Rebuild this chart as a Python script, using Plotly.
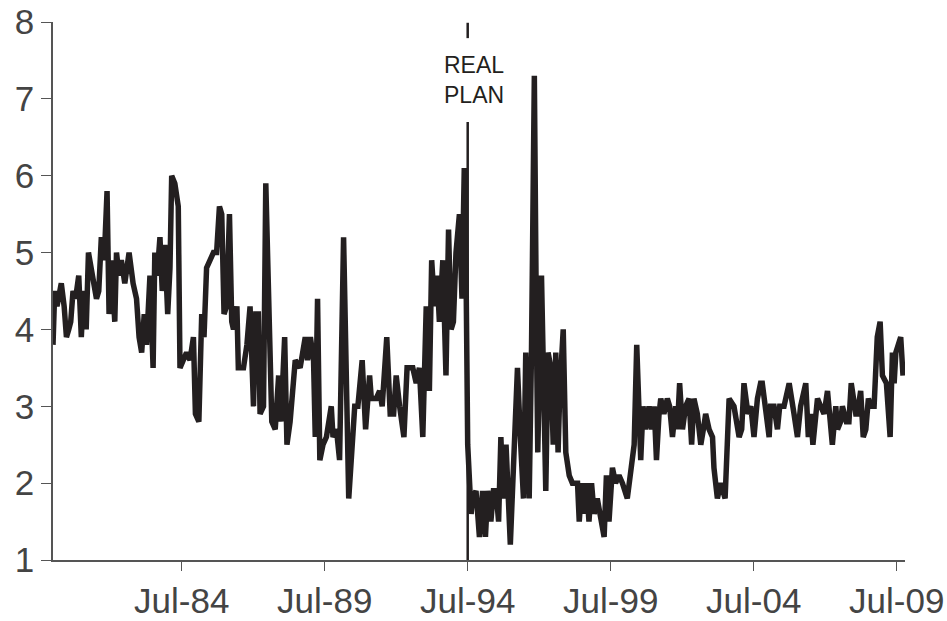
import plotly.graph_objects as go

# decimal years (x) and the plotted values (y)
years = [
    1980.00, 1980.06, 1980.14, 1980.21, 1980.29, 1980.39, 1980.47, 1980.55, 1980.62, 1980.70,
    1980.79, 1980.90, 1980.99, 1981.07, 1981.16, 1981.24, 1981.33, 1981.43, 1981.52, 1981.60,
    1981.69, 1981.79, 1981.89, 1981.96, 1982.04, 1982.16, 1982.22, 1982.31, 1982.39, 1982.51,
    1982.66, 1982.80, 1982.92, 1983.01, 1983.10, 1983.19, 1983.27, 1983.39, 1983.50, 1983.56,
    1983.64, 1983.74, 1983.82, 1983.91, 1984.01, 1984.09, 1984.15, 1984.26, 1984.38, 1984.44,
    1984.56, 1984.67, 1984.79, 1984.91, 1984.98, 1985.10, 1985.20, 1985.28, 1985.37, 1985.47,
    1985.61, 1985.72, 1985.82, 1985.90, 1985.98, 1986.07, 1986.17, 1986.25, 1986.31, 1986.43,
    1986.48, 1986.66, 1986.78, 1986.89, 1987.01, 1987.09, 1987.18, 1987.24, 1987.36, 1987.44,
    1987.65, 1987.77, 1987.89, 1987.97, 1988.10, 1988.18, 1988.29, 1988.47, 1988.64, 1988.82,
    1988.90, 1989.00, 1989.11, 1989.17, 1989.25, 1989.33, 1989.44, 1989.56, 1989.73, 1989.79,
    1989.91, 1990.02, 1990.16, 1990.34, 1990.49, 1990.55, 1990.66, 1990.81, 1990.93, 1991.07,
    1991.13, 1991.30, 1991.42, 1991.51, 1991.67, 1991.79, 1991.91, 1992.00, 1992.12, 1992.27,
    1992.38, 1992.58, 1992.70, 1992.81, 1992.93, 1993.05, 1993.16, 1993.24, 1993.34, 1993.43,
    1993.51, 1993.63, 1993.74, 1993.83, 1993.92, 1994.00, 1994.09, 1994.21, 1994.30, 1994.38,
    1994.44, 1994.50, 1994.62, 1994.67, 1994.79, 1994.91, 1995.02, 1995.12, 1995.20, 1995.31,
    1995.40, 1995.49, 1995.58, 1995.66, 1995.74, 1995.84, 1995.99, 1996.07, 1996.24, 1996.34,
    1996.45, 1996.53, 1996.65, 1996.73, 1996.83, 1996.91, 1996.95, 1997.08, 1997.23, 1997.31,
    1997.41, 1997.49, 1997.58, 1997.66, 1997.72, 1997.84, 1997.93, 1998.05, 1998.16, 1998.34,
    1998.40, 1998.49, 1998.57, 1998.65, 1998.74, 1998.83, 1998.92, 1999.03, 1999.15, 1999.27,
    1999.35, 1999.44, 1999.56, 1999.67, 1999.79, 1999.91, 2000.08, 2000.20, 2000.32, 2000.41,
    2000.55, 2000.63, 2000.72, 2000.84, 2000.93, 2001.02, 2001.10, 2001.19, 2001.25, 2001.36,
    2001.48, 2001.56, 2001.66, 2001.77, 2001.83, 2001.91, 2002.01, 2002.12, 2002.24, 2002.33,
    2002.41, 2002.53, 2002.65, 2002.74, 2002.82, 2002.94, 2003.06, 2003.11, 2003.23, 2003.35,
    2003.50, 2003.64, 2003.81, 2003.99, 2004.08, 2004.16, 2004.30, 2004.40, 2004.51, 2004.63,
    2004.74, 2004.80, 2004.92, 2005.04, 2005.09, 2005.21, 2005.33, 2005.41, 2005.56, 2005.74,
    2005.91, 2006.03, 2006.14, 2006.32, 2006.41, 2006.49, 2006.57, 2006.73, 2006.84, 2006.96,
    2007.08, 2007.16, 2007.25, 2007.37, 2007.43, 2007.54, 2007.60, 2007.74, 2007.83, 2007.91,
    2008.07, 2008.12, 2008.24, 2008.33, 2008.42, 2008.51, 2008.59, 2008.71, 2008.82, 2008.92,
    2009.00, 2009.14, 2009.27, 2009.35, 2009.41, 2009.47, 2009.55, 2009.64, 2009.72,
]
values = [
    3.8, 4.5, 4.3, 4.5, 4.6, 4.3, 3.9, 4.0, 4.1, 4.5,
    4.4, 4.7, 3.9, 4.5, 4.0, 5.0, 4.8, 4.5, 4.4, 4.5,
    5.2, 4.9, 5.8, 4.2, 4.9, 4.1, 5.0, 4.7, 4.9, 4.6,
    5.0, 4.6, 4.4, 3.9, 3.7, 4.2, 3.8, 4.7, 3.5, 5.0,
    4.7, 5.2, 4.5, 5.1, 4.2, 4.8, 6.0, 5.9, 5.6, 3.5,
    3.6, 3.7, 3.6, 3.9, 2.9, 2.8, 4.2, 3.9, 4.8, 4.9,
    5.0, 5.0, 5.6, 5.5, 4.2, 4.3, 5.5, 4.1, 4.0, 4.3,
    3.5, 3.5, 3.8, 4.3, 3.0, 4.2, 4.2, 2.9, 3.0, 5.9,
    2.8, 2.7, 3.4, 2.8, 3.9, 2.5, 2.8, 3.6, 3.5, 3.9,
    3.6, 3.9, 3.6, 2.6, 4.4, 2.3, 2.5, 2.6, 3.0, 2.6,
    2.7, 2.3, 5.2, 1.8, 2.6, 3.0, 3.0, 3.6, 2.7, 3.4,
    3.1, 3.1, 3.2, 3.0, 3.9, 2.9, 2.9, 3.4, 3.0, 2.6,
    3.5, 3.5, 3.3, 3.5, 2.6, 4.3, 3.2, 4.9, 4.3, 4.7,
    4.1, 4.9, 3.4, 5.3, 4.0, 4.1, 5.0, 5.5, 4.4, 6.1,
    4.8, 2.5, 1.6, 1.8, 1.9, 1.3, 1.9, 1.3, 1.9, 1.5,
    1.9, 1.9, 1.5, 2.6, 1.8, 2.5, 1.2, 2.0, 3.5, 2.6,
    1.8, 3.7, 1.8, 3.7, 7.3, 3.7, 2.4, 4.7, 1.9, 3.7,
    3.5, 2.5, 3.7, 2.4, 3.2, 4.0, 2.4, 2.1, 2.0, 2.0,
    1.5, 2.0, 1.6, 2.0, 1.5, 2.0, 1.6, 1.8, 1.5, 1.3,
    2.1, 1.5, 2.2, 2.0, 2.1, 2.0, 1.8, 2.2, 2.5, 3.8,
    2.3, 3.0, 2.7, 3.0, 2.7, 3.0, 2.3, 2.9, 3.1, 2.9,
    3.1, 3.0, 2.6, 3.0, 2.7, 3.3, 2.7, 3.0, 3.1, 2.5,
    3.1, 2.9, 2.5, 2.7, 2.9, 2.7, 2.6, 2.2, 1.8, 2.0,
    1.8, 3.1, 3.0, 2.6, 2.7, 3.3, 2.9, 3.0, 2.6, 3.1,
    3.3, 3.3, 3.0, 2.6, 3.0, 3.0, 2.7, 3.0, 3.0, 3.3,
    2.9, 2.6, 3.0, 3.3, 2.6, 2.9, 2.5, 3.1, 3.0, 2.9,
    3.2, 2.9, 2.5, 3.0, 2.7, 2.8, 3.0, 2.8, 2.8, 3.3,
    2.9, 2.9, 3.2, 2.6, 2.7, 3.1, 3.0, 3.0, 3.9, 4.1,
    3.4, 3.3, 2.6, 3.7, 3.3, 3.7, 3.8, 3.9, 3.4,
]

tick_years = [1984.5, 1989.5, 1994.5, 1999.5, 2004.5, 2009.5]
tick_labels = ["Jul-84", "Jul-89", "Jul-94", "Jul-99", "Jul-04", "Jul-09"]

real_plan_year = 1994.5
real_plan_label = "REAL<br>PLAN"

font_family = "Liberation Sans, Arial, sans-serif"

fig = go.Figure()

fig.add_trace(go.Scatter(
    x=years,
    y=values,
    mode="lines",
    line=dict(color="#231f20", width=5.5),
    hoverinfo="skip",
))

# vertical marker for the Real plan, broken around the label
fig.add_shape(type="line", x0=real_plan_year, x1=real_plan_year, y0=1, y1=6.7,
              xref="x", yref="y", line=dict(color="#231f20", width=2.5))
fig.add_shape(type="line", x0=real_plan_year, x1=real_plan_year, y0=7.79, y1=7.99,
              xref="x", yref="y", line=dict(color="#231f20", width=2.5))
fig.add_annotation(x=real_plan_year, y=7.25, xref="x", yref="y",
                   text=real_plan_label, showarrow=False, xshift=6,
                   font=dict(family=font_family, size=23, color="#231f20"))

fig.update_layout(
    width=947,
    height=621,
    margin=dict(l=53, r=42, t=22, b=61),
    paper_bgcolor="white",
    plot_bgcolor="white",
    showlegend=False,
    font=dict(family=font_family, color="#444444"),
    xaxis=dict(
        range=[1980.0, 2009.79],
        tickmode="array",
        tickvals=tick_years,
        ticktext=tick_labels,
        ticks="outside",
        ticklen=9,
        tickcolor="#555555",
        showline=True,
        linecolor="#555555",
        linewidth=1.5,
        showgrid=False,
        zeroline=False,
        automargin=False,
        tickfont=dict(size=35, color="#444444"),
    ),
    yaxis=dict(
        range=[1, 8],
        dtick=1,
        ticks="outside",
        ticklen=10,
        tickcolor="#555555",
        showline=True,
        linecolor="#555555",
        linewidth=1.5,
        showgrid=False,
        zeroline=False,
        automargin=False,
        tickfont=dict(size=35, color="#444444"),
    ),
)

fig.write_html("out.html", config={"displayModeBar": False},
               post_script="document.body.style.margin='0';")
